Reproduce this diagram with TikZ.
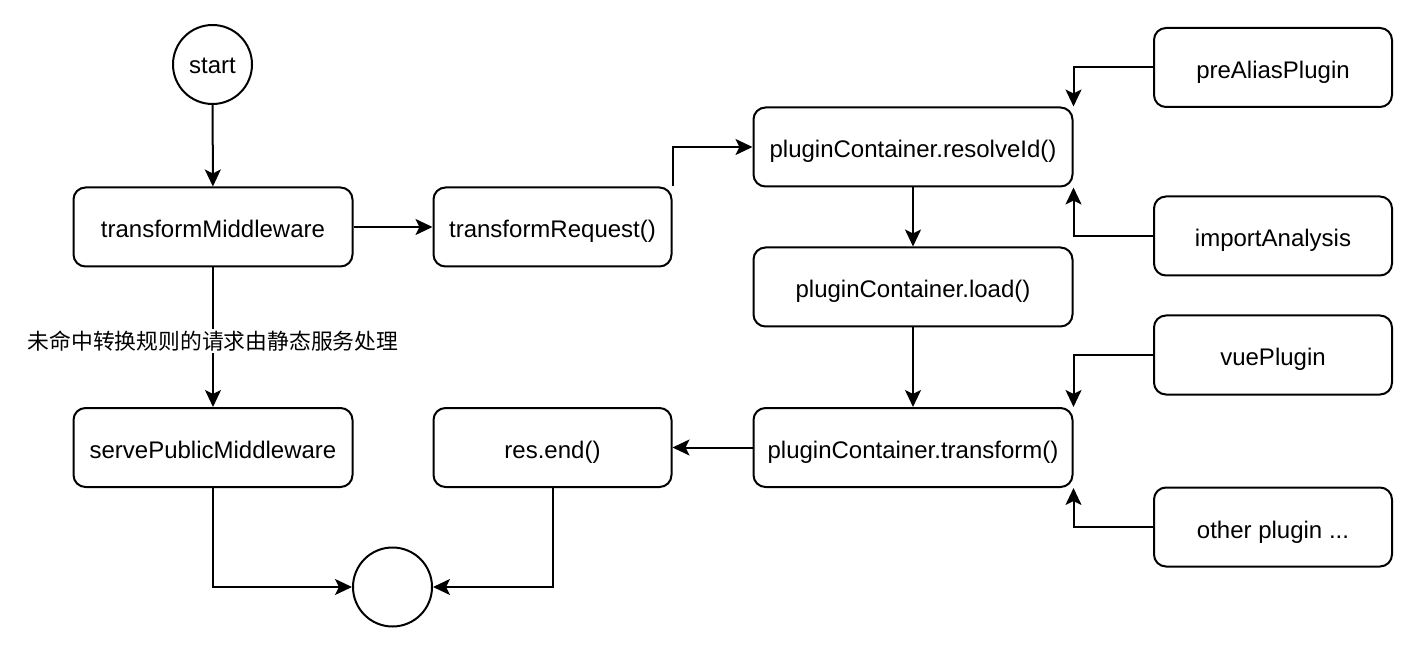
\documentclass[tikz,border=0pt]{standalone}
\usepackage{fontspec}
\setmainfont{Liberation Sans}
\newfontfamily\cjkfont{Noto Sans CJK SC}
\usetikzlibrary{arrows.meta}
\begin{document}
\begin{tikzpicture}[x=1pt,y=-1pt,
  box/.style={draw, line width=2pt, rounded corners=12pt, minimum height=79pt, inner sep=0pt, text height=22pt, text depth=0pt, font=\fontsize{24}{28}\selectfont, fill=white},
  widebox/.style={box, minimum width=279pt},
  midbox/.style={box, minimum width=238pt},
  bigbox/.style={box, minimum width=319pt},
  term/.style={draw, circle, line width=2pt, minimum size=79pt, inner sep=0pt, text height=19pt, text depth=0pt, font=\fontsize{24}{28}\selectfont},
  arr/.style={draw, line width=2pt, -{Stealth[length=17pt, width=16pt, inset=4pt]}},
  lbl/.style={fill=white, inner sep=2pt, yshift=-3.5pt, font=\cjkfont\fontsize{21.8}{26}\selectfont}
]
\useasboundingbox (0,0) rectangle (1422,652);
\node[term] (start) at (212.5,64.5) {start};
\node[widebox] (tm) at (213,227) {transformMiddleware};
\node[midbox] (tr) at (552.5,227) {transformRequest()};
\node[bigbox] (rid) at (913,147) {pluginContainer.resolveId()};
\node[midbox] (pa) at (1273,67.5) {preAliasPlugin};
\node[midbox] (ia) at (1273,236) {importAnalysis};
\node[bigbox] (load) at (913,287) {pluginContainer.load()};
\node[midbox] (vp) at (1273,355) {vuePlugin};
\node[bigbox] (tf) at (913,447.5) {pluginContainer.transform()};
\node[midbox] (op) at (1273,527) {other plugin ...};
\node[midbox] (re) at (552.5,447.5) {res.end()};
\node[widebox] (sp) at (213,447.5) {servePublicMiddleware};
\node[term] (end) at (392.5,587) {};

\draw[arr] (start) -- (tm);
\draw[arr] (tm) -- (tr);
\draw[arr] (tr.north east) |- (rid);
\draw[arr] (pa) -| (rid.north east);
\draw[arr] (ia) -| (rid.south east);
\draw[arr] (rid) -- (load);
\draw[arr] (load) -- (tf);
\draw[arr] (vp) -| (tf.north east);
\draw[arr] (op) -| (tf.south east);
\draw[arr] (tf) -- (re);
\draw[arr] (tm) -- node[lbl, pos=0.5] {未命中转换规则的请求由静态服务处理} (sp);
\draw[arr] (sp) |- (end);
\draw[arr] (re) |- (end);
\end{tikzpicture}
\end{document}
